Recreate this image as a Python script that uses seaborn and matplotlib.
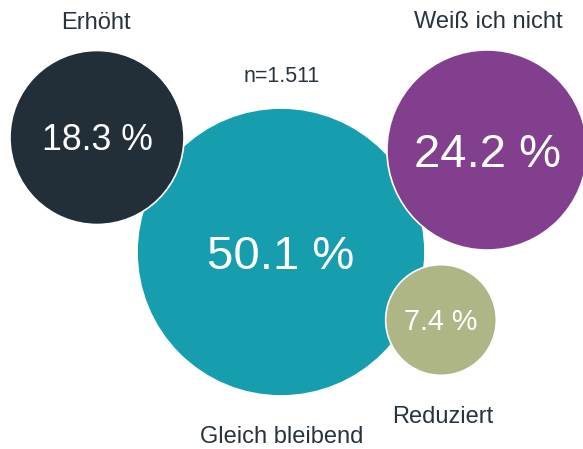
import matplotlib
matplotlib.use("Agg")
import matplotlib.pyplot as plt
import seaborn as sns
import pandas as pd
import numpy as np

# data
categories = ["Gleich bleibend", "Erhöht", "Weiß ich nicht", "Reduziert"]
shares = [50.1, 18.3, 24.2, 7.4]
sample_note = "n=1.511"

# layout (pixel coordinates of bubble centres, packed by hand)
bubble_x = [281, 97, 487, 441]
bubble_y = [252, 137.5, 150, 320]
label_x = [281.5, 96, 488, 442.5]
label_y = [443, 28.7, 28.3, 423]
value_fs = [34, 25.7, 34, 20.6]
colors = ["#169dae", "#222f39", "#823f8e", "#aeb685"]
text_color = "#27333d"

W, H, DPI = 583, 449, 100
sns.set_theme(style="white")
plt.rcParams["font.family"] = ["Liberation Sans", "DejaVu Sans"]

df = pd.DataFrame({"category": categories, "share": shares,
                   "x": bubble_x, "y": bubble_y})

fig = plt.figure(figsize=(W / DPI, H / DPI), dpi=DPI)
ax = fig.add_axes([0, 0, 1, 1])

# bubble area proportional to share: radius = k * sqrt(share) px
k = 20.34
c = (2 * k * 72 / DPI) ** 2
sns.scatterplot(data=df, x="x", y="y", hue="category", palette=colors,
                size="share", sizes=(c * min(shares), c * max(shares)),
                edgecolor="white", linewidth=1.2, alpha=1, legend=False, ax=ax)

for i, row in df.iterrows():
    fs = value_fs[i]
    cap = 0.716 * fs * DPI / 72
    ax.text(row.x, row.y + cap / 2, f"{row.share:.1f} %", ha="center",
            va="baseline", color="white", fontsize=fs)
    ax.text(label_x[i], label_y[i], row.category, ha="center", va="baseline",
            color=text_color, fontsize=17)

ax.text(281.7, 81.7, sample_note, ha="center", va="baseline",
        color=text_color, fontsize=15.5)

ax.set_xlim(0, W)
ax.set_ylim(H, 0)
ax.axis("off")
fig.savefig("out.png", dpi=DPI)
